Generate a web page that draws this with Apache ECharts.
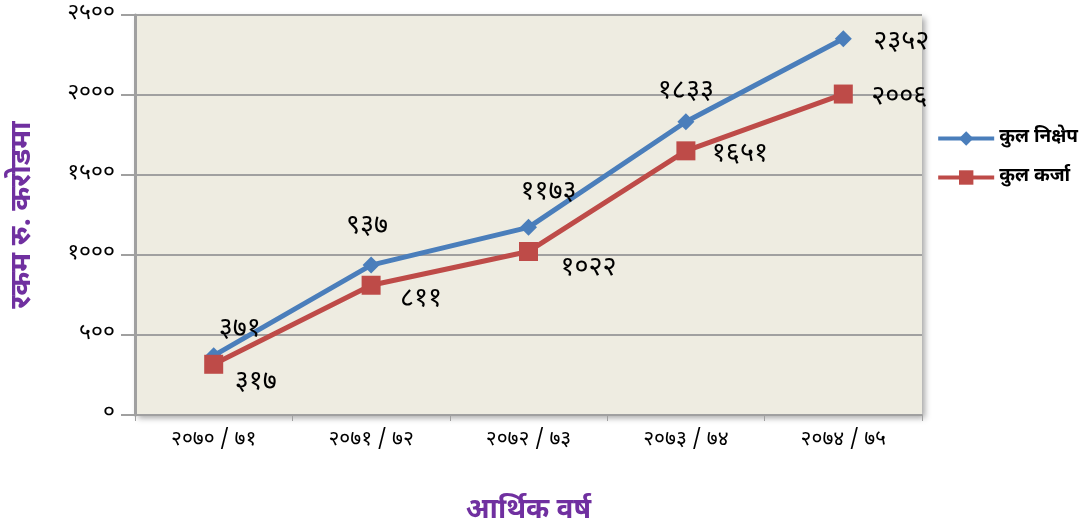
<!DOCTYPE html>
<html>
<head>
<meta charset="utf-8">
<script src="https://cdn.jsdelivr.net/npm/echarts@6/dist/echarts.min.js"></script>
<style>
    html, body { margin: 0; padding: 0; background: #fff; }
    #chart { width: 1089px; height: 529px; }
</style>
</head>
<body>
<div id="chart"></div>
<script>
    const years = ['२०७०/७१', '२०७१/७२', '२०७२/७३', '२०७३/७४', '२०७४/७५'];
    const deposit = [371, 937, 1173, 1833, 2352];
    const loan = [317, 811, 1022, 1651, 2006];
    const depositName = 'कुल निक्षेप';
    const loanName = 'कुल कर्जा';
    const devDigits = '०१२३४५६७८९';

    function toDev(n) {
        return String(n).replace(/[0-9]/g, d => devDigits[+d]);
    }

    // label offsets per point (style only)
    const depositOffsets = [[26, 2], [-4, -10], [20, -6], [0, -2], [58, 32]];
    const loanOffsets = [[42, 20], [50, 16], [60, 18], [54, 5], [56, 5]];

    const font = "'Noto Sans Devanagari', 'Noto Sans', sans-serif";

    var chart = echarts.init(document.getElementById('chart'));

    option = {
        backgroundColor: '#fff',
        textStyle: { fontFamily: font },
        grid: {
            left: 135, right: 167, top: 15, bottom: 114,
            outerBoundsMode: 'none',
            show: true,
            backgroundColor: '#EEECE1',
            borderWidth: 0,
            shadowColor: 'rgba(0,0,0,0.35)',
            shadowBlur: 6,
            shadowOffsetX: 3,
            shadowOffsetY: 3
        },
        legend: {
            orient: 'vertical',
            right: 6,
            top: 124,
            itemGap: 20,
            itemWidth: 56,
            itemHeight: 18,
            lineStyle: { width: 4 },
            textStyle: { fontSize: 19, color: '#000', fontWeight: 'bold', fontFamily: font },
            data: [depositName, loanName]
        },
        xAxis: {
            type: 'category',
            data: years,
            boundaryGap: true,
            name: 'आर्थिक वर्ष',
            nameLocation: 'middle',
            nameGap: 84,
            nameTextStyle: { color: '#7030A0', fontSize: 28, fontWeight: 'bold', fontFamily: font },
            axisLine: { lineStyle: { color: '#A0A0A0', width: 2 } },
            axisTick: { show: true, inside: false, length: 6, lineStyle: { color: '#A0A0A0' } },
            axisLabel: { color: '#000', fontSize: 21, margin: 16, formatter: v => v.replace('/', ' / ') }
        },
        yAxis: {
            type: 'value',
            min: 0,
            max: 2500,
            interval: 500,
            name: 'रकम रु. करोडमा',
            nameLocation: 'middle',
            nameGap: 96,
            nameRotate: 90,
            nameTextStyle: { color: '#7030A0', fontSize: 29, fontWeight: 'bold', fontFamily: font },
            axisLine: { show: true, lineStyle: { color: '#A0A0A0', width: 3 } },
            axisTick: { show: true, length: 14, lineStyle: { color: '#A0A0A0', width: 2 } },
            axisLabel: { color: '#000', fontSize: 23, margin: 20, formatter: v => toDev(v) },
            splitLine: { show: true, lineStyle: { color: '#A0A0A0', width: 2 } }
        },
        series: [
            {
                name: depositName,
                type: 'line',
                data: deposit.map((v, i) => ({
                    value: v,
                    label: { offset: depositOffsets[i] }
                })),
                symbol: 'diamond',
                symbolSize: 17,
                lineStyle: { color: '#4A7EBB', width: 5 },
                itemStyle: { color: '#4A7EBB' },
                label: {
                    show: true,
                    position: 'top',
                    fontSize: 27,
                    color: '#000',
                    formatter: p => toDev(p.value)
                },
                z: 3
            },
            {
                name: loanName,
                type: 'line',
                data: loan.map((v, i) => ({
                    value: v,
                    label: { offset: loanOffsets[i] }
                })),
                symbol: 'rect',
                symbolSize: 19,
                lineStyle: { color: '#BE4B48', width: 5 },
                itemStyle: { color: '#BE4B48' },
                label: {
                    show: true,
                    position: 'inside',
                    fontSize: 27,
                    color: '#000',
                    formatter: p => toDev(p.value)
                },
                z: 4
            }
        ]
    };

    chart.setOption(option);

    window.onresize = function () {
        chart.resize();
    };
</script>
</body>
</html>
